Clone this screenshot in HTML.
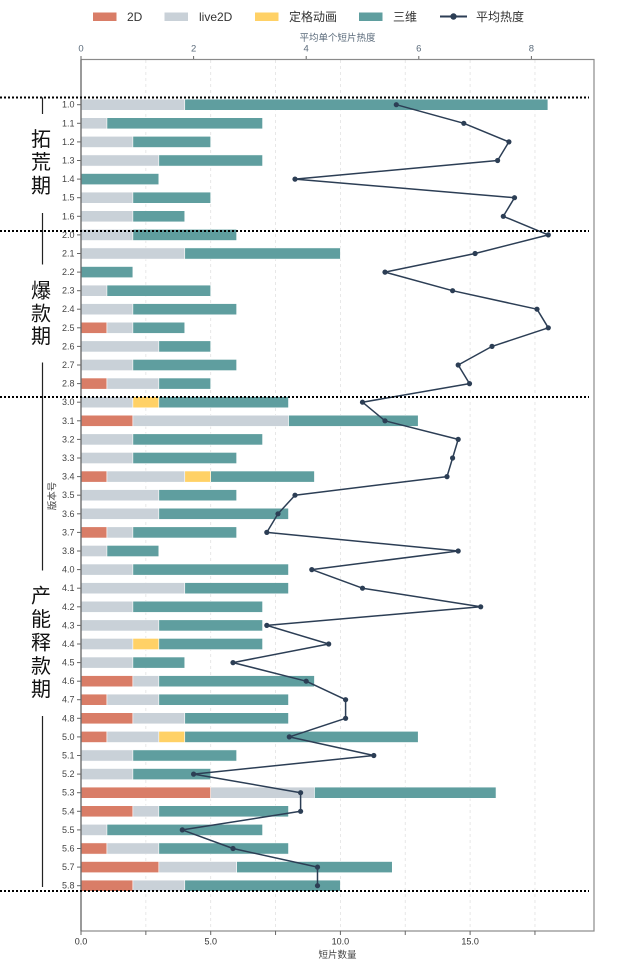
<!DOCTYPE html>
<html><head><meta charset="utf-8"><style>
html,body{margin:0;padding:0;background:#fff;}
svg{display:block;}
text{font-family:"Liberation Sans","Noto Sans CJK SC",sans-serif;}
.cjk{font-family:"Liberation Sans","Noto Sans CJK SC",sans-serif;}
.yt{font-size:9px;fill:#444;text-anchor:end;dominant-baseline:central;}
.a{fill:#d97d67}.b{fill:#c9d1d8}.c{fill:#ffd166}.d{fill:#5f9e9f}
.bars rect{stroke:#fff;stroke-width:0.6;}
.per{font-size:20px;fill:#111;text-anchor:middle;dominant-baseline:central;}
</style></head><body>
<svg width="633" height="966" viewBox="0 0 633 966" xmlns="http://www.w3.org/2000/svg">
<!-- legend -->
<rect x="93" y="12.5" width="23.5" height="8.5" class="a"/>
<text x="127" y="17" font-size="12" fill="#333" dominant-baseline="central">2D</text>
<rect x="164.5" y="12.5" width="23.5" height="8.5" class="b"/>
<text x="199" y="17" font-size="12" fill="#333" dominant-baseline="central">live2D</text>
<rect x="255" y="12.5" width="23.5" height="8.5" class="c"/>
<text x="289" y="17" font-size="12" fill="#333" dominant-baseline="central">定格动画</text>
<rect x="359" y="12.5" width="23.5" height="8.5" class="d"/>
<text x="393" y="17" font-size="12" fill="#333" dominant-baseline="central">三维</text>
<line x1="440" y1="16.5" x2="467" y2="16.5" stroke="#2c3e55" stroke-width="2"/>
<circle cx="453.5" cy="16.5" r="3.2" fill="#2c3e55"/>
<text x="476" y="17" font-size="12" fill="#333" dominant-baseline="central">平均热度</text>

<!-- top axis -->
<text x="337.5" y="38.5" font-size="9.5" fill="#5b6b7b" text-anchor="middle" dominant-baseline="central">平均单个短片热度</text>
<g font-size="9.5" fill="#5b6b7b" text-anchor="middle">
<text x="81" y="51.5">0</text><text x="193.6" y="51.5">2</text><text x="306.2" y="51.5">4</text><text x="418.8" y="51.5">6</text><text x="531.4" y="51.5">8</text>
</g>
<g stroke="#666" stroke-width="1">
<line x1="81" y1="56" x2="81" y2="59.5"/><line x1="193.6" y1="56" x2="193.6" y2="59.5"/><line x1="306.2" y1="56" x2="306.2" y2="59.5"/><line x1="418.8" y1="56" x2="418.8" y2="59.5"/><line x1="531.4" y1="56" x2="531.4" y2="59.5"/>
</g>

<!-- grid -->
<g stroke="#e2e2e2" stroke-width="0.8" stroke-dasharray="3,3">
<line x1="145.85" y1="60" x2="145.85" y2="931"/><line x1="210.7" y1="60" x2="210.7" y2="931"/><line x1="275.55" y1="60" x2="275.55" y2="931"/><line x1="340.4" y1="60" x2="340.4" y2="931"/><line x1="405.25" y1="60" x2="405.25" y2="931"/><line x1="470.1" y1="60" x2="470.1" y2="931"/><line x1="534.95" y1="60" x2="534.95" y2="931"/>
</g>

<!-- bars -->
<g class="bars">
<rect class="b" x="81" y="99.1" width="103.76" height="11.2"/><rect class="d" x="184.76" y="99.1" width="363.16" height="11.2"/>
<rect class="b" x="81" y="117.7" width="25.94" height="11.2"/><rect class="d" x="106.94" y="117.7" width="155.64" height="11.2"/>
<rect class="b" x="81" y="136.3" width="51.88" height="11.2"/><rect class="d" x="132.88" y="136.3" width="77.82" height="11.2"/>
<rect class="b" x="81" y="154.9" width="77.82" height="11.2"/><rect class="d" x="158.82" y="154.9" width="103.76" height="11.2"/>
<rect class="d" x="81" y="173.5" width="77.82" height="11.2"/>
<rect class="b" x="81" y="192.1" width="51.88" height="11.2"/><rect class="d" x="132.88" y="192.1" width="77.82" height="11.2"/>
<rect class="b" x="81" y="210.7" width="51.88" height="11.2"/><rect class="d" x="132.88" y="210.7" width="51.88" height="11.2"/>
<rect class="b" x="81" y="229.3" width="51.88" height="11.2"/><rect class="d" x="132.88" y="229.3" width="103.76" height="11.2"/>
<rect class="b" x="81" y="247.9" width="103.76" height="11.2"/><rect class="d" x="184.76" y="247.9" width="155.64" height="11.2"/>
<rect class="d" x="81" y="266.5" width="51.88" height="11.2"/>
<rect class="b" x="81" y="285.1" width="25.94" height="11.2"/><rect class="d" x="106.94" y="285.1" width="103.76" height="11.2"/>
<rect class="b" x="81" y="303.6" width="51.88" height="11.2"/><rect class="d" x="132.88" y="303.6" width="103.76" height="11.2"/>
<rect class="a" x="81" y="322.2" width="25.94" height="11.2"/><rect class="b" x="106.94" y="322.2" width="25.94" height="11.2"/><rect class="d" x="132.88" y="322.2" width="51.88" height="11.2"/>
<rect class="b" x="81" y="340.8" width="77.82" height="11.2"/><rect class="d" x="158.82" y="340.8" width="51.88" height="11.2"/>
<rect class="b" x="81" y="359.4" width="51.88" height="11.2"/><rect class="d" x="132.88" y="359.4" width="103.76" height="11.2"/>
<rect class="a" x="81" y="378.0" width="25.94" height="11.2"/><rect class="b" x="106.94" y="378.0" width="51.88" height="11.2"/><rect class="d" x="158.82" y="378.0" width="51.88" height="11.2"/>
<rect class="b" x="81" y="396.6" width="51.88" height="11.2"/><rect class="c" x="132.88" y="396.6" width="25.94" height="11.2"/><rect class="d" x="158.82" y="396.6" width="129.7" height="11.2"/>
<rect class="a" x="81" y="415.2" width="51.88" height="11.2"/><rect class="b" x="132.88" y="415.2" width="155.64" height="11.2"/><rect class="d" x="288.52" y="415.2" width="129.7" height="11.2"/>
<rect class="b" x="81" y="433.8" width="51.88" height="11.2"/><rect class="d" x="132.88" y="433.8" width="129.7" height="11.2"/>
<rect class="b" x="81" y="452.4" width="51.88" height="11.2"/><rect class="d" x="132.88" y="452.4" width="103.76" height="11.2"/>
<rect class="a" x="81" y="471.0" width="25.94" height="11.2"/><rect class="b" x="106.94" y="471.0" width="77.82" height="11.2"/><rect class="c" x="184.76" y="471.0" width="25.94" height="11.2"/><rect class="d" x="210.7" y="471.0" width="103.76" height="11.2"/>
<rect class="b" x="81" y="489.6" width="77.82" height="11.2"/><rect class="d" x="158.82" y="489.6" width="77.82" height="11.2"/>
<rect class="b" x="81" y="508.2" width="77.82" height="11.2"/><rect class="d" x="158.82" y="508.2" width="129.7" height="11.2"/>
<rect class="a" x="81" y="526.8" width="25.94" height="11.2"/><rect class="b" x="106.94" y="526.8" width="25.94" height="11.2"/><rect class="d" x="132.88" y="526.8" width="103.76" height="11.2"/>
<rect class="b" x="81" y="545.4" width="25.94" height="11.2"/><rect class="d" x="106.94" y="545.4" width="51.88" height="11.2"/>
<rect class="b" x="81" y="564.0" width="51.88" height="11.2"/><rect class="d" x="132.88" y="564.0" width="155.64" height="11.2"/>
<rect class="b" x="81" y="582.6" width="103.76" height="11.2"/><rect class="d" x="184.76" y="582.6" width="103.76" height="11.2"/>
<rect class="b" x="81" y="601.2" width="51.88" height="11.2"/><rect class="d" x="132.88" y="601.2" width="129.7" height="11.2"/>
<rect class="b" x="81" y="619.8" width="77.82" height="11.2"/><rect class="d" x="158.82" y="619.8" width="103.76" height="11.2"/>
<rect class="b" x="81" y="638.4" width="51.88" height="11.2"/><rect class="c" x="132.88" y="638.4" width="25.94" height="11.2"/><rect class="d" x="158.82" y="638.4" width="103.76" height="11.2"/>
<rect class="b" x="81" y="657.0" width="51.88" height="11.2"/><rect class="d" x="132.88" y="657.0" width="51.88" height="11.2"/>
<rect class="a" x="81" y="675.6" width="51.88" height="11.2"/><rect class="b" x="132.88" y="675.6" width="25.94" height="11.2"/><rect class="d" x="158.82" y="675.6" width="155.64" height="11.2"/>
<rect class="a" x="81" y="694.1" width="25.94" height="11.2"/><rect class="b" x="106.94" y="694.1" width="51.88" height="11.2"/><rect class="d" x="158.82" y="694.1" width="129.7" height="11.2"/>
<rect class="a" x="81" y="712.7" width="51.88" height="11.2"/><rect class="b" x="132.88" y="712.7" width="51.88" height="11.2"/><rect class="d" x="184.76" y="712.7" width="103.76" height="11.2"/>
<rect class="a" x="81" y="731.3" width="25.94" height="11.2"/><rect class="b" x="106.94" y="731.3" width="51.88" height="11.2"/><rect class="c" x="158.82" y="731.3" width="25.94" height="11.2"/><rect class="d" x="184.76" y="731.3" width="233.46" height="11.2"/>
<rect class="b" x="81" y="749.9" width="51.88" height="11.2"/><rect class="d" x="132.88" y="749.9" width="103.76" height="11.2"/>
<rect class="b" x="81" y="768.5" width="51.88" height="11.2"/><rect class="d" x="132.88" y="768.5" width="77.82" height="11.2"/>
<rect class="a" x="81" y="787.1" width="129.7" height="11.2"/><rect class="b" x="210.7" y="787.1" width="103.76" height="11.2"/><rect class="d" x="314.46" y="787.1" width="181.58" height="11.2"/>
<rect class="a" x="81" y="805.7" width="51.88" height="11.2"/><rect class="b" x="132.88" y="805.7" width="25.94" height="11.2"/><rect class="d" x="158.82" y="805.7" width="129.7" height="11.2"/>
<rect class="b" x="81" y="824.3" width="25.94" height="11.2"/><rect class="d" x="106.94" y="824.3" width="155.64" height="11.2"/>
<rect class="a" x="81" y="842.9" width="25.94" height="11.2"/><rect class="b" x="106.94" y="842.9" width="51.88" height="11.2"/><rect class="d" x="158.82" y="842.9" width="129.7" height="11.2"/>
<rect class="a" x="81" y="861.5" width="77.82" height="11.2"/><rect class="b" x="158.82" y="861.5" width="77.82" height="11.2"/><rect class="d" x="236.64" y="861.5" width="155.64" height="11.2"/>
<rect class="a" x="81" y="880.1" width="51.88" height="11.2"/><rect class="b" x="132.88" y="880.1" width="51.88" height="11.2"/><rect class="d" x="184.76" y="880.1" width="155.64" height="11.2"/>
</g>

<!-- heat line -->
<polyline fill="none" stroke="#2c3e55" stroke-width="1.5" stroke-linejoin="round" points="396.3,104.7 463.8,123.3 508.9,141.9 497.6,160.5 295,179.1 514.5,197.7 503.3,216.3 548.3,234.9 475.1,253.5 385,272.1 452.6,290.7 537,309.2 548.3,327.8 492,346.4 458.2,365.0 469.5,383.6 362.5,402.2 385,420.8 458.2,439.4 452.6,458.0 447,476.6 295,495.2 278,513.8 266.8,532.4 458.2,551.0 311.8,569.6 362.5,588.2 480.7,606.8 266.8,625.4 328.7,644.0 233,662.6 306.2,681.2 345.6,699.7 345.6,718.3 289.3,736.9 373.8,755.5 193.6,774.1 300.6,792.7 300.6,811.3 182.3,829.9 233,848.5 317.5,867.1 317.5,885.7"/>
<g fill="#2c3e55">
<circle cx="396.3" cy="104.7" r="2.6"/><circle cx="463.8" cy="123.3" r="2.6"/><circle cx="508.9" cy="141.9" r="2.6"/><circle cx="497.6" cy="160.5" r="2.6"/><circle cx="295" cy="179.1" r="2.6"/><circle cx="514.5" cy="197.7" r="2.6"/><circle cx="503.3" cy="216.3" r="2.6"/><circle cx="548.3" cy="234.9" r="2.6"/><circle cx="475.1" cy="253.5" r="2.6"/><circle cx="385" cy="272.1" r="2.6"/><circle cx="452.6" cy="290.7" r="2.6"/><circle cx="537" cy="309.2" r="2.6"/><circle cx="548.3" cy="327.8" r="2.6"/><circle cx="492" cy="346.4" r="2.6"/><circle cx="458.2" cy="365.0" r="2.6"/><circle cx="469.5" cy="383.6" r="2.6"/><circle cx="362.5" cy="402.2" r="2.6"/><circle cx="385" cy="420.8" r="2.6"/><circle cx="458.2" cy="439.4" r="2.6"/><circle cx="452.6" cy="458.0" r="2.6"/><circle cx="447" cy="476.6" r="2.6"/><circle cx="295" cy="495.2" r="2.6"/><circle cx="278" cy="513.8" r="2.6"/><circle cx="266.8" cy="532.4" r="2.6"/><circle cx="458.2" cy="551.0" r="2.6"/><circle cx="311.8" cy="569.6" r="2.6"/><circle cx="362.5" cy="588.2" r="2.6"/><circle cx="480.7" cy="606.8" r="2.6"/><circle cx="266.8" cy="625.4" r="2.6"/><circle cx="328.7" cy="644.0" r="2.6"/><circle cx="233" cy="662.6" r="2.6"/><circle cx="306.2" cy="681.2" r="2.6"/><circle cx="345.6" cy="699.7" r="2.6"/><circle cx="345.6" cy="718.3" r="2.6"/><circle cx="289.3" cy="736.9" r="2.6"/><circle cx="373.8" cy="755.5" r="2.6"/><circle cx="193.6" cy="774.1" r="2.6"/><circle cx="300.6" cy="792.7" r="2.6"/><circle cx="300.6" cy="811.3" r="2.6"/><circle cx="182.3" cy="829.9" r="2.6"/><circle cx="233" cy="848.5" r="2.6"/><circle cx="317.5" cy="867.1" r="2.6"/><circle cx="317.5" cy="885.7" r="2.6"/>
</g>

<!-- spines -->
<rect x="81" y="59.5" width="513" height="871.5" fill="none" stroke="#8a8a8a" stroke-width="1.2"/>
<line x1="81" y1="59.5" x2="81" y2="931" stroke="#666" stroke-width="1.2"/>

<!-- y ticks -->
<g stroke="#666" stroke-width="1">
<line x1="77" y1="104.7" x2="81" y2="104.7"/><line x1="77" y1="123.3" x2="81" y2="123.3"/><line x1="77" y1="141.9" x2="81" y2="141.9"/><line x1="77" y1="160.5" x2="81" y2="160.5"/><line x1="77" y1="179.1" x2="81" y2="179.1"/><line x1="77" y1="197.7" x2="81" y2="197.7"/><line x1="77" y1="216.3" x2="81" y2="216.3"/><line x1="77" y1="234.9" x2="81" y2="234.9"/><line x1="77" y1="253.5" x2="81" y2="253.5"/><line x1="77" y1="272.1" x2="81" y2="272.1"/><line x1="77" y1="290.7" x2="81" y2="290.7"/><line x1="77" y1="309.2" x2="81" y2="309.2"/><line x1="77" y1="327.8" x2="81" y2="327.8"/><line x1="77" y1="346.4" x2="81" y2="346.4"/><line x1="77" y1="365.0" x2="81" y2="365.0"/><line x1="77" y1="383.6" x2="81" y2="383.6"/><line x1="77" y1="402.2" x2="81" y2="402.2"/><line x1="77" y1="420.8" x2="81" y2="420.8"/><line x1="77" y1="439.4" x2="81" y2="439.4"/><line x1="77" y1="458.0" x2="81" y2="458.0"/><line x1="77" y1="476.6" x2="81" y2="476.6"/><line x1="77" y1="495.2" x2="81" y2="495.2"/><line x1="77" y1="513.8" x2="81" y2="513.8"/><line x1="77" y1="532.4" x2="81" y2="532.4"/><line x1="77" y1="551.0" x2="81" y2="551.0"/><line x1="77" y1="569.6" x2="81" y2="569.6"/><line x1="77" y1="588.2" x2="81" y2="588.2"/><line x1="77" y1="606.8" x2="81" y2="606.8"/><line x1="77" y1="625.4" x2="81" y2="625.4"/><line x1="77" y1="644.0" x2="81" y2="644.0"/><line x1="77" y1="662.6" x2="81" y2="662.6"/><line x1="77" y1="681.2" x2="81" y2="681.2"/><line x1="77" y1="699.7" x2="81" y2="699.7"/><line x1="77" y1="718.3" x2="81" y2="718.3"/><line x1="77" y1="736.9" x2="81" y2="736.9"/><line x1="77" y1="755.5" x2="81" y2="755.5"/><line x1="77" y1="774.1" x2="81" y2="774.1"/><line x1="77" y1="792.7" x2="81" y2="792.7"/><line x1="77" y1="811.3" x2="81" y2="811.3"/><line x1="77" y1="829.9" x2="81" y2="829.9"/><line x1="77" y1="848.5" x2="81" y2="848.5"/><line x1="77" y1="867.1" x2="81" y2="867.1"/><line x1="77" y1="885.7" x2="81" y2="885.7"/>
</g>
<g class="yt">
<text class="yt" x="74.5" y="104.7">1.0</text><text class="yt" x="74.5" y="123.3">1.1</text><text class="yt" x="74.5" y="141.9">1.2</text><text class="yt" x="74.5" y="160.5">1.3</text><text class="yt" x="74.5" y="179.1">1.4</text><text class="yt" x="74.5" y="197.7">1.5</text><text class="yt" x="74.5" y="216.3">1.6</text><text class="yt" x="74.5" y="234.9">2.0</text><text class="yt" x="74.5" y="253.5">2.1</text><text class="yt" x="74.5" y="272.1">2.2</text><text class="yt" x="74.5" y="290.7">2.3</text><text class="yt" x="74.5" y="309.2">2.4</text><text class="yt" x="74.5" y="327.8">2.5</text><text class="yt" x="74.5" y="346.4">2.6</text><text class="yt" x="74.5" y="365.0">2.7</text><text class="yt" x="74.5" y="383.6">2.8</text><text class="yt" x="74.5" y="402.2">3.0</text><text class="yt" x="74.5" y="420.8">3.1</text><text class="yt" x="74.5" y="439.4">3.2</text><text class="yt" x="74.5" y="458.0">3.3</text><text class="yt" x="74.5" y="476.6">3.4</text><text class="yt" x="74.5" y="495.2">3.5</text><text class="yt" x="74.5" y="513.8">3.6</text><text class="yt" x="74.5" y="532.4">3.7</text><text class="yt" x="74.5" y="551.0">3.8</text><text class="yt" x="74.5" y="569.6">4.0</text><text class="yt" x="74.5" y="588.2">4.1</text><text class="yt" x="74.5" y="606.8">4.2</text><text class="yt" x="74.5" y="625.4">4.3</text><text class="yt" x="74.5" y="644.0">4.4</text><text class="yt" x="74.5" y="662.6">4.5</text><text class="yt" x="74.5" y="681.2">4.6</text><text class="yt" x="74.5" y="699.7">4.7</text><text class="yt" x="74.5" y="718.3">4.8</text><text class="yt" x="74.5" y="736.9">5.0</text><text class="yt" x="74.5" y="755.5">5.1</text><text class="yt" x="74.5" y="774.1">5.2</text><text class="yt" x="74.5" y="792.7">5.3</text><text class="yt" x="74.5" y="811.3">5.4</text><text class="yt" x="74.5" y="829.9">5.5</text><text class="yt" x="74.5" y="848.5">5.6</text><text class="yt" x="74.5" y="867.1">5.7</text><text class="yt" x="74.5" y="885.7">5.8</text>
</g>
<text x="53" y="496" font-size="9.5" fill="#444" text-anchor="middle" dominant-baseline="central" transform="rotate(-90 53 496)">版本号</text>

<!-- bottom axis -->
<g stroke="#666" stroke-width="1">
<line x1="81" y1="931" x2="81" y2="935"/><line x1="145.85" y1="931" x2="145.85" y2="935"/><line x1="210.7" y1="931" x2="210.7" y2="935"/><line x1="275.55" y1="931" x2="275.55" y2="935"/><line x1="340.4" y1="931" x2="340.4" y2="935"/><line x1="405.25" y1="931" x2="405.25" y2="935"/><line x1="470.1" y1="931" x2="470.1" y2="935"/><line x1="534.95" y1="931" x2="534.95" y2="935"/>
</g>
<g font-size="9" fill="#333" text-anchor="middle">
<text x="81" y="944.5">0.0</text><text x="210.7" y="944.5">5.0</text><text x="340.4" y="944.5">10.0</text><text x="470.1" y="944.5">15.0</text>
</g>
<text x="337.5" y="955.5" font-size="9.5" fill="#444" text-anchor="middle" dominant-baseline="central">短片数量</text>

<!-- dotted separators -->
<g stroke="#000" stroke-width="2" stroke-dasharray="2,2">
<line x1="0" y1="97.5" x2="589" y2="97.5"/>
<line x1="0" y1="231" x2="589" y2="231"/>
<line x1="0" y1="397" x2="589" y2="397"/>
<line x1="0" y1="891" x2="589" y2="891"/>
</g>

<!-- period brackets -->
<g stroke="#222" stroke-width="1.2">
<line x1="42.5" y1="97.5" x2="42.5" y2="114"/>
<line x1="42.5" y1="213" x2="42.5" y2="264.5"/>
<line x1="42.5" y1="362.5" x2="42.5" y2="570.5"/>
<line x1="42.5" y1="716" x2="42.5" y2="887"/>
</g>
<g class="per">
<text class="per" x="41" y="140">拓</text><text class="per" x="41" y="163">荒</text><text class="per" x="41" y="186.5">期</text>
<text class="per" x="41" y="291.5">爆</text><text class="per" x="41" y="314.5">款</text><text class="per" x="41" y="337">期</text>
<text class="per" x="41" y="596.5">产</text><text class="per" x="41" y="620">能</text><text class="per" x="41" y="643.5">释</text><text class="per" x="41" y="667">款</text><text class="per" x="41" y="690">期</text>
</g>
</svg>
</body></html>
